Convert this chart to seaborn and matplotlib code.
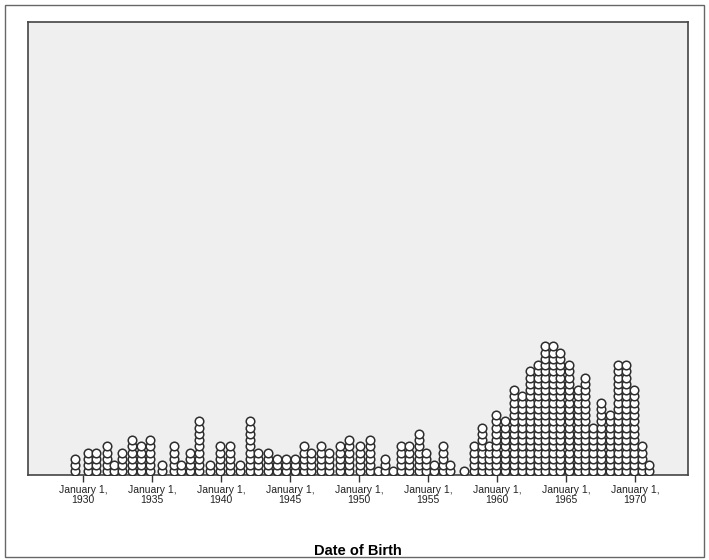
import pandas as pd
import seaborn as sns
import matplotlib.pyplot as plt
from matplotlib.patches import Rectangle

# birth date bins (decimal years) and how many people fall in each
birth_years = [1929.38, 1930.34, 1930.90, 1931.70, 1932.22, 1932.78, 1933.53, 1934.16, 1934.83,
               1935.70, 1936.57, 1937.08, 1937.78, 1938.38, 1939.18, 1939.91, 1940.68, 1941.36,
               1942.12, 1942.66, 1943.38, 1944.07, 1944.67, 1945.34, 1945.99, 1946.54, 1947.22,
               1947.84, 1948.60, 1949.29, 1950.05, 1950.81, 1951.36, 1951.86, 1952.44, 1953.06,
               1953.60, 1954.33, 1954.88, 1955.41, 1956.07, 1956.62, 1957.59, 1958.31, 1958.89,
               1959.43, 1959.96, 1960.61, 1961.21, 1961.79, 1962.42, 1962.95, 1963.51, 1964.04,
               1964.59, 1965.23, 1965.85, 1966.39, 1966.97, 1967.55, 1968.20, 1968.78, 1969.36,
               1969.94, 1970.51, 1970.99]
counts = [3, 4, 4, 5, 2, 4, 6, 5, 6,
          2, 5, 2, 4, 9, 2, 5, 5, 2,
          9, 4, 4, 3, 3, 3, 5, 4, 5,
          4, 5, 6, 5, 6, 1, 3, 1, 5,
          5, 7, 4, 2, 5, 2, 1, 5, 8,
          5, 10, 9, 14, 13, 17, 18, 21, 21,
          20, 18, 14, 16, 8, 12, 10, 18, 18,
          14, 5, 2]

tick_years = [1930, 1935, 1940, 1945, 1950, 1955, 1960, 1965, 1970]
tick_labels = [f'January 1,\n{y}' for y in tick_years]

rows = []
for yr, n in zip(birth_years, counts):
    for k in range(n):
        rows.append({'Date of Birth': yr, 'stack': k})
df = pd.DataFrame(rows)

plt.rcParams['font.family'] = ['Liberation Sans', 'DejaVu Sans']

fig = plt.figure(figsize=(7.09, 5.6), dpi=100)
fig.patch.set_facecolor('white')
ax = fig.add_axes([28 / 709, 1 - 475 / 560, 660 / 709, 453 / 560])
ax.set_facecolor('#efefef')

sns.scatterplot(data=df, x='Date of Birth', y='stack', ax=ax, marker='o', s=38,
                facecolor='white', edgecolor='#2e2e2e', linewidth=1.1, legend=False, zorder=3)

ax.set_xlim(1926.0, 1973.85)
ax.set_ylim(-0.6, 72)
ax.set_yticks([])
ax.set_ylabel('')
ax.set_xticks(tick_years)
ax.set_xticklabels(tick_labels, fontsize=7.5, color='#222222', linespacing=1.0)
ax.tick_params(axis='x', length=5, width=1, color='#333333', pad=2)
ax.set_xlabel('Date of Birth', fontsize=10.5, fontweight='bold', labelpad=28)
for side in ax.spines.values():
    side.set_color('#444444')
    side.set_linewidth(1.2)

fig.patches.append(Rectangle((5 / 709, 3 / 560), 699 / 709, 552 / 560, transform=fig.transFigure,
                             fill=False, edgecolor='#666666', linewidth=1))

fig.savefig('out.png', dpi=100)
